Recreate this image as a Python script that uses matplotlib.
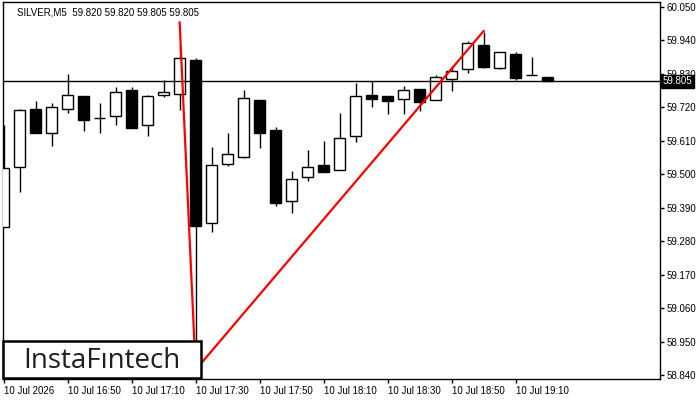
import matplotlib
matplotlib.use("Agg")
import matplotlib.pyplot as plt
from matplotlib.patches import Rectangle

# 5-minute SILVER candles, 10 Jul 16:30 .. 19:20
opens = [59.327, 59.523, 59.714, 59.635, 59.714, 59.757, 59.684, 59.691, 59.777, 59.661,
         59.760, 59.765, 59.876, 59.339, 59.533, 59.558, 59.744, 59.646, 59.413, 59.490,
         59.530, 59.514, 59.626, 59.760, 59.757, 59.748, 59.780, 59.743, 59.814, 59.845,
         59.925, 59.848, 59.895, 59.825, 59.820]
highs = [59.662, 59.714, 59.741, 59.735, 59.830, 59.757, 59.733, 59.786, 59.788, 59.761,
         59.810, 59.925, 59.883, 59.589, 59.635, 59.776, 59.744, 59.656, 59.511, 59.580,
         59.609, 59.702, 59.799, 59.807, 59.757, 59.790, 59.780, 59.826, 59.856, 59.939,
         59.969, 59.901, 59.901, 59.887, 59.820]
lows = [59.326, 59.443, 59.637, 59.594, 59.700, 59.643, 59.635, 59.663, 59.653, 59.627,
        59.755, 59.711, 58.857, 59.311, 59.528, 59.554, 59.587, 59.396, 59.374, 59.479,
        59.508, 59.514, 59.607, 59.722, 59.698, 59.698, 59.709, 59.743, 59.775, 59.834,
        59.848, 59.845, 59.810, 59.825, 59.805]
closes = [59.519, 59.711, 59.637, 59.720, 59.760, 59.678, 59.684, 59.770, 59.653, 59.757,
          59.770, 59.881, 59.331, 59.529, 59.566, 59.750, 59.637, 59.406, 59.484, 59.523,
          59.508, 59.618, 59.757, 59.748, 59.742, 59.777, 59.739, 59.819, 59.839, 59.931,
          59.854, 59.901, 59.817, 59.825, 59.805]

current_price = 59.805
title = "SILVER,M5  59.820 59.820 59.805 59.805"

# pattern line (bar index, price)
pattern_x = [11, 12, 30]
pattern_y = [59.999, 58.857, 59.971]

xtick_pos = [0, 4, 8, 12, 16, 20, 24, 28, 32]
xtick_labels = ["10 Jul 2026", "10 Jul 16:50", "10 Jul 17:10", "10 Jul 17:30",
                "10 Jul 17:50", "10 Jul 18:10", "10 Jul 18:30", "10 Jul 18:50",
                "10 Jul 19:10"]
yticks = [58.840, 58.950, 59.060, 59.170, 59.280, 59.390, 59.500,
          59.610, 59.720, 59.830, 59.940, 60.050]

plt.rcParams['font.family'] = ['Liberation Sans', 'DejaVu Sans']

fig = plt.figure(figsize=(7, 4), dpi=100)
ax = fig.add_axes([3 / 700, 21 / 400, 657 / 700, 377 / 400])

body_w = 0.66
for i, (o, h, l, c) in enumerate(zip(opens, highs, lows, closes)):
    ax.vlines(i, l, h, color="black", lw=1, zorder=2)
    if abs(c - o) < 1e-9:
        ax.hlines(o, i - body_w / 2, i + body_w / 2, color="black", lw=1, zorder=3)
    else:
        fc = "white" if c > o else "black"
        ax.add_patch(Rectangle((i - body_w / 2, min(o, c)), body_w, abs(c - o),
                               facecolor=fc, edgecolor="black", lw=1, zorder=3))

ax.axhline(current_price, color="black", lw=1, zorder=4)
ax.plot(pattern_x, pattern_y, color="#ff0000", lw=1.6, zorder=5)

ax.set_xlim(-0.04, 41.02)
ax.set_ylim(58.8267, 60.0664)

ax.yaxis.tick_right()
ax.set_yticks(yticks)
ax.set_yticklabels([f"{v:.3f}" for v in yticks])
ax.set_xticks(xtick_pos)
ax.set_xticklabels(xtick_labels, ha="left")
ax.tick_params(axis="both", direction="out", length=3, width=1, labelsize=7, pad=2,
               colors="black")
for s in ax.spines.values():
    s.set_linewidth(1)
    s.set_color("black")

ax.text(0.022, 0.985, title, transform=ax.transAxes, fontsize=7, va="top", ha="left")

# current price tag
ax.text(1.0045, current_price, "59.805", transform=ax.get_yaxis_transform(),
        fontsize=7, color="white", va="center", ha="left", zorder=10, clip_on=False,
        bbox=dict(facecolor="black", edgecolor="black", boxstyle="square,pad=0.15"))

# logo box
fig.patches.append(Rectangle((3 / 700, 22 / 400), 198 / 700, 37 / 400,
                             transform=fig.transFigure, facecolor="white",
                             edgecolor="black", lw=1.8, zorder=20))
fig.text(101.5 / 700, 32 / 400, "InstaF\u0131ntech", fontsize=20, color="#1e1e1e",
         family=["Open Sans", "DejaVu Sans"], ha="center", va="baseline", zorder=21)

fig.savefig("out.png", dpi=100)
